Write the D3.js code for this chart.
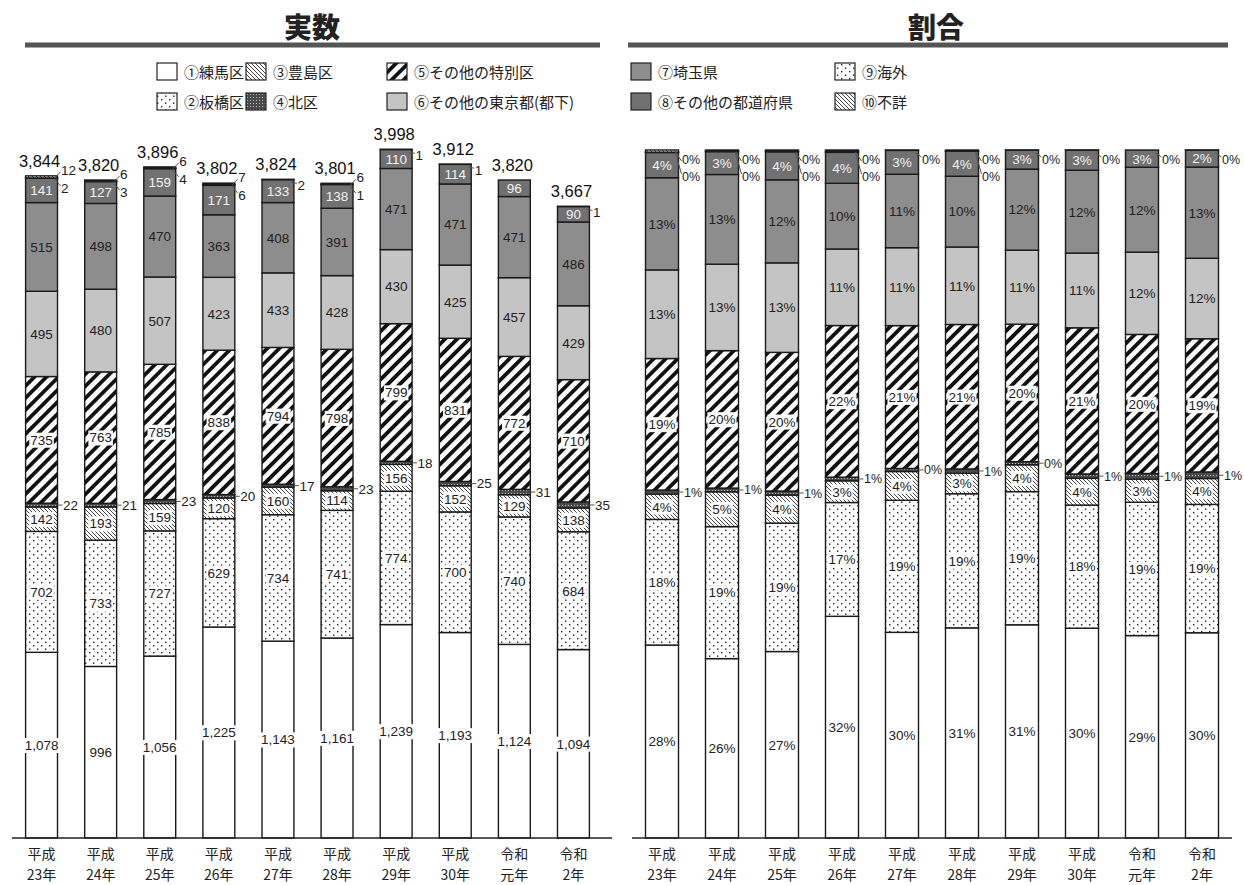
<!DOCTYPE html>
<html><head><meta charset="utf-8">
<script src="https://cdn.jsdelivr.net/npm/d3@7"></script>
<style>
body{margin:0;background:#fff}
text{font-family:"Liberation Sans","Noto Sans CJK JP",sans-serif;fill:#222}
</style>
</head><body>
<svg id="c" width="1244" height="885"></svg>
<script>
// ---- data ----
const yearEra = ["平成","平成","平成","平成","平成","平成","平成","平成","令和","令和"];
const yearNum = ["23年","24年","25年","26年","27年","28年","29年","30年","元年","2年"];
const categories = ["①練馬区","②板橋区","③豊島区","④北区","⑤その他の特別区","⑥その他の東京都(都下)","⑦埼玉県","⑧その他の都道府県","⑨海外","⑩不詳"];
const nerima     = [1078,996,1056,1225,1143,1161,1239,1193,1124,1094];
const itabashi   = [702,733,727,629,734,741,774,700,740,684];
const toshima    = [142,193,159,120,160,114,156,152,129,138];
const kita       = [22,21,23,20,17,23,18,25,31,35];
const otherWards = [735,763,785,838,794,798,799,831,772,710];
const otherTokyo = [495,480,507,423,433,428,430,425,457,429];
const saitama    = [515,498,470,363,408,391,471,471,471,486];
const otherPref  = [141,127,159,171,133,138,110,114,96,90];
const overseas   = [2,3,4,6,2,1,1,1,0,1];
const unknown    = [12,6,6,7,0,6,0,0,0,0];
const titles = ["実数","割合"];

const seriesList = [nerima,itabashi,toshima,kita,otherWards,otherTokyo,saitama,otherPref,overseas,unknown];
const idx = d3.range(yearEra.length);
const totals = idx.map(i => d3.sum(seriesList, s => s[i]));
const rows = idx.map(i => { const o = {i}; categories.forEach((k,j)=>o[k]=seriesList[j][i]); return o; });
const pctRows = idx.map(i => { const o = {i}; categories.forEach((k,j)=>o[k]=seriesList[j][i]/totals[i]); return o; });

const svg = d3.select("#c");
const defs = svg.append("defs");

// patterns
function dots(id){
  const p = defs.append("pattern").attr("id",id).attr("patternUnits","userSpaceOnUse").attr("width",8).attr("height",7);
  p.append("rect").attr("width",8).attr("height",7).attr("fill","#fff");
  p.append("rect").attr("x",1).attr("y",1).attr("width",1.4).attr("height",1.4).attr("fill","#222");
  p.append("rect").attr("x",5).attr("y",4.5).attr("width",1.4).attr("height",1.4).attr("fill","#222");
}
dots("pDots"); dots("pDots2");
function hatch(id){
  const p = defs.append("pattern").attr("id",id).attr("patternUnits","userSpaceOnUse").attr("width",4).attr("height",4);
  p.append("rect").attr("width",4).attr("height",4).attr("fill","#fff");
  p.append("path").attr("d","M-1,-1L5,5M-1,3L1,5M3,-1L5,1").attr("stroke","#333").attr("stroke-width",0.9);
}
hatch("pHatch"); hatch("pHatch2");
(function(){
  const p = defs.append("pattern").attr("id","pDark").attr("patternUnits","userSpaceOnUse").attr("width",3).attr("height",3);
  p.append("rect").attr("width",3).attr("height",3).attr("fill","#4a4a4a");
  p.append("rect").attr("x",1).attr("y",1).attr("width",1).attr("height",1).attr("fill","#bbb");
})();
(function(){
  const p = defs.append("pattern").attr("id","pStripe").attr("patternUnits","userSpaceOnUse")
    .attr("width",8.5).attr("height",8.5).attr("patternTransform","rotate(45)");
  p.append("rect").attr("width",8.5).attr("height",8.5).attr("fill","#fff");
  p.append("rect").attr("width",3.8).attr("height",8.5).attr("fill","#111");
})();

const fills = ["#fff","url(#pDots)","url(#pHatch)","url(#pDark)","url(#pStripe)","#c4c4c4","#8d8d8d","#717171","url(#pDots2)","url(#pHatch2)"];
const bgLabel = [true,true,true,false,true,false,false,false,false,false];
const textCol = ["#222","#222","#222","#222","#222","#222","#222","#f2f2f2","#222","#222"];

// titles
const titleX = [312, 936];
const lineX = [[25,600],[628,1228]];
titles.forEach((t,k)=>{
  svg.append("text").attr("x",titleX[k]).attr("y",38).attr("text-anchor","middle")
    .style("font-family","'Noto Sans CJK JP',sans-serif").style("font-weight",900).style("font-size","28px").text(t);
  svg.append("line").attr("x1",lineX[k][0]).attr("x2",lineX[k][1]).attr("y1",45).attr("y2",45)
    .attr("stroke","#555").attr("stroke-width",5);
});

// legend
const legBoxX = [157,246,387,631,835];
const legRowY = [63,93];
categories.forEach((c,j)=>{
  const col = Math.floor(j/2), row = j%2;
  const bx = legBoxX[col], by = legRowY[row];
  svg.append("rect").attr("x",bx).attr("y",by).attr("width",20).attr("height",17)
    .attr("fill",fills[j]).attr("stroke","#222").attr("stroke-width",1.2);
  svg.append("text").attr("x",bx+27).attr("y",by+14.5)
    .style("font-family","'Noto Sans CJK JP',sans-serif").style("font-size","15px").text(c);
});

function drawChart(data, x, y, fmt, isPct){
  const g = svg.append("g");
  const stack = d3.stack().keys(categories)(data);
  const bw = x.bandwidth();
  stack.forEach((layer,j)=>{
    g.selectAll(null).data(layer).join("rect")
      .attr("x",d=>x(d.data.i)).attr("width",bw)
      .attr("y",d=>y(d[1])).attr("height",d=>Math.max(0,y(d[0])-y(d[1])))
      .attr("fill",fills[j]).attr("stroke","#1a1a1a").attr("stroke-width",1.4);
  });
  const r = x.range();
  g.append("line").attr("x1",r[0]).attr("x2",r[1]+ (isPct?0:9)).attr("y1",y(0)).attr("y2",y(0))
    .attr("stroke","#222").attr("stroke-width",1.6);
  const axG = g.append("g").attr("transform",`translate(0,${y(0)})`)
    .call(d3.axisBottom(x).tickSize(0).tickFormat(i=>yearEra[i]));
  axG.select(".domain").remove();
  axG.selectAll(".tick text").each(function(i){
    const t = d3.select(this).text(null).attr("dy",null).attr("y",null)
      .attr("fill","#333").style("font-family","'Noto Sans CJK JP',sans-serif").style("font-size","14px");
    t.append("tspan").attr("x",0).attr("y",21).text(yearEra[i]);
    t.append("tspan").attr("x",0).attr("y",41.5).text(yearNum[i]);
  });
  const labG = g.append("g");
  function lab(xp, yp, txt, j, anchor, bg, fs){
    const t = labG.append("text").attr("x",xp).attr("y",yp).attr("dy","0.36em")
      .attr("text-anchor",anchor).style("font-size",(fs||13.5)+"px").style("fill",textCol[j]).text(txt);
    if(bg){
      const b = t.node().getBBox();
      labG.insert("rect","text").attr("x",b.x-1).attr("y",b.y).attr("width",b.width+2).attr("height",b.height).attr("fill","#fff");
    }
    return t;
  }
  stack.forEach((layer,j)=>{
    if([3,8,9].includes(j)) return;
    layer.forEach(d=>{
      const v = d[1]-d[0];
      lab(x(d.data.i)+bw/2, (y(d[0])+y(d[1]))/2, fmt(v), j, "middle", bgLabel[j]);
    });
  });
  const fsOut = isPct ? 12.5 : 13.5;
  idx.forEach(i=>{
    const rx = x(i)+bw;
    const d4 = stack[3][i];
    const y4 = (y(d4[0])+y(d4[1]))/2;
    labG.append("line").attr("x1",rx).attr("x2",rx+5).attr("y1",y4).attr("y2",y4).attr("stroke","#555").attr("stroke-width",1);
    lab(rx+5.5, y4, fmt(d4[1]-d4[0]), 3, "start", false, fsOut);
    const top = y(stack[9][i][1]);
    const showU = unknown[i] > 0, showO = overseas[i] > 0 || (isPct && !showU);
    if(showU){
      const yy = isPct ? top+9 : top-6;
      labG.append("line").attr("x1",rx-3).attr("x2",rx+3).attr("y1",top+2).attr("y2",yy+2).attr("stroke","#555").attr("stroke-width",1);
      lab(rx+3.5, yy, fmt(stack[9][i][1]-stack[9][i][0]), 9, "start", false, fsOut);
    }
    if(showO){
      const yy = isPct ? (showU ? top+26 : top+9) : (showU ? top+12 : top+6);
      labG.append("line").attr("x1",rx-3).attr("x2",rx+3).attr("y1",top+3).attr("y2",yy-2).attr("stroke","#555").attr("stroke-width",1);
      lab(rx+3.5, yy, fmt(stack[8][i][1]-stack[8][i][0]), 8, "start", false, fsOut);
    }
  });
  return g;
}

// left: counts
const xL = d3.scaleBand().domain(idx).range([12,603]).paddingInner(0.46).paddingOuter(0.23);
const yL = d3.scaleLinear().domain([0,4000]).range([838,149]);
drawChart(rows, xL, yL, d3.format(","), false);
svg.append("g").selectAll("text").data(idx).join("text")
  .attr("x",i=>xL(i)+xL.bandwidth()/2-2).attr("y",i=>yL(totals[i])-9)
  .attr("text-anchor","middle").style("font-size","16.5px").style("fill","#111")
  .text(i=>d3.format(",")(totals[i]));

// right: shares
const xR = d3.scaleBand().domain(idx).range([632,1232]).paddingInner(0.45).paddingOuter(0.225);
const yR = d3.scaleLinear().domain([0,1]).range([838,150]);
drawChart(pctRows, xR, yR, d3.format(".0%"), true);
</script>
</body></html>
